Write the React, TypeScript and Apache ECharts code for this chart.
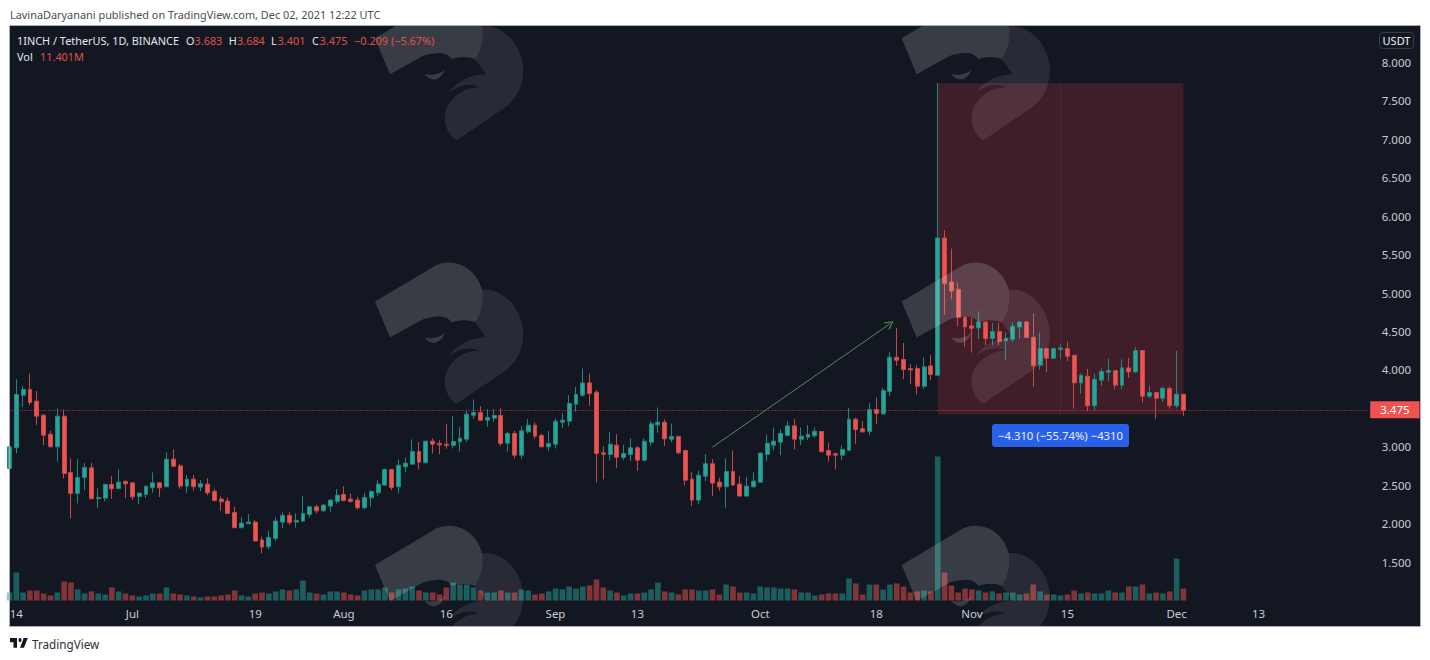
import React, { useEffect, useRef } from "react";
import * as echarts from "echarts";

const opens = [
  2.718,2.986,3.671,3.745,3.593,3.411,3.164,2.999,3.398,2.666,
  2.393,2.601,2.726,2.324,2.332,2.510,2.458,2.549,2.531,2.354,
  2.380,2.466,2.531,2.480,2.839,2.752,2.488,2.579,2.475,2.514,
  2.419,2.319,2.293,2.146,1.947,1.999,2.020,1.786,1.700,1.808,
  2.020,2.107,2.020,2.033,2.120,2.219,2.167,2.228,2.289,2.380,
  2.319,2.306,2.207,2.336,2.401,2.501,2.705,2.480,2.739,2.774,
  2.939,2.791,3.073,3.043,3.034,3.017,3.064,3.099,3.411,3.446,
  3.346,3.372,3.407,3.047,3.173,2.891,3.194,3.281,3.147,2.999,
  3.034,3.320,3.333,3.554,3.671,3.831,3.710,2.921,2.900,3.021,
  2.861,2.900,2.986,2.826,3.060,3.285,3.320,3.099,3.134,2.952,
  2.579,2.306,2.618,2.779,2.540,2.479,2.679,2.514,2.358,2.479,
  2.540,2.900,3.021,3.060,3.147,3.272,3.099,3.125,3.142,3.199,
  2.952,2.908,2.891,2.952,3.359,3.233,3.199,3.485,3.428,3.719,
  4.165,4.135,4.018,4.018,3.788,4.052,3.931,5.716,5.144,5.049,
  4.685,4.572,4.546,4.624,4.408,4.499,4.377,4.399,4.559,4.624,
  4.425,4.061,4.278,4.152,4.265,4.278,4.191,3.831,3.918,3.533,
  3.866,3.970,3.992,3.801,4.026,3.974,4.252,3.658,3.706,3.632,3.758,3.533,3.683,
];
const closes = [
  2.999,3.680,3.745,3.576,3.398,3.151,2.999,3.398,2.653,2.393,
  2.601,2.731,2.324,2.341,2.510,2.453,2.540,2.518,2.349,2.397,
  2.484,2.531,2.466,2.839,2.748,2.488,2.579,2.480,2.518,2.401,
  2.302,2.285,2.133,1.947,2.007,2.020,1.773,1.695,1.821,2.033,
  2.107,2.016,2.042,2.133,2.219,2.167,2.241,2.306,2.371,2.302,
  2.289,2.207,2.341,2.419,2.514,2.705,2.471,2.761,2.787,2.939,
  2.800,3.073,3.034,3.025,3.017,3.069,3.112,3.424,3.446,3.346,
  3.381,3.407,3.043,3.173,2.891,3.207,3.281,3.138,2.999,3.043,
  3.333,3.346,3.563,3.680,3.831,3.693,2.913,2.904,3.034,2.865,
  2.913,2.986,2.826,3.073,3.298,3.320,3.103,3.134,2.921,2.566,
  2.306,2.631,2.779,2.527,2.479,2.679,2.501,2.358,2.488,2.553,
  2.917,3.047,3.073,3.173,3.272,3.099,3.138,3.160,3.203,2.934,
  2.891,2.891,2.965,3.359,3.225,3.194,3.485,3.433,3.732,4.165,
  4.126,4.005,4.000,3.788,4.039,3.940,5.716,5.123,5.027,4.681,
  4.559,4.542,4.624,4.408,4.499,4.369,4.412,4.568,4.624,4.421,
  4.053,4.278,4.152,4.278,4.286,4.178,3.831,3.931,3.533,3.879,
  3.979,3.992,3.801,4.026,3.974,4.252,3.658,3.706,3.632,3.762,3.533,3.684,3.475,
];
const lows = [
  2.718,2.913,3.519,3.541,3.281,3.021,2.999,2.804,2.588,2.068,
  2.263,2.436,2.324,2.198,2.293,2.324,2.458,2.332,2.306,2.254,
  2.332,2.401,2.345,2.480,2.739,2.453,2.401,2.427,2.423,2.371,
  2.289,2.167,2.124,1.947,1.947,1.999,1.773,1.613,1.669,1.778,
  1.947,1.981,1.947,2.024,2.077,2.133,2.154,2.154,2.263,2.289,
  2.272,2.185,2.185,2.219,2.362,2.493,2.436,2.393,2.666,2.774,
  2.705,2.791,2.913,2.904,2.973,2.978,2.939,3.064,3.363,3.333,
  3.259,3.320,3.008,2.939,2.848,2.839,3.173,3.103,2.999,2.943,
  2.978,3.242,3.268,3.459,3.649,3.532,2.536,2.575,2.826,2.722,
  2.826,2.813,2.687,2.817,3.008,3.186,3.008,3.060,2.904,2.493,
  2.228,2.254,2.553,2.358,2.428,2.207,2.501,2.358,2.358,2.471,
  2.540,2.813,2.952,2.891,3.138,2.965,3.025,3.090,3.121,2.934,
  2.804,2.705,2.826,2.952,3.038,3.186,3.151,3.294,3.420,3.662,
  4.052,3.879,3.814,3.684,3.753,3.866,3.931,4.720,4.919,4.568,
  4.299,4.226,4.403,4.321,4.321,4.321,4.126,4.364,4.408,4.412,
  3.779,4.005,3.966,4.143,4.143,4.113,3.498,3.693,3.463,3.476,
  3.793,3.853,3.749,3.745,3.896,3.961,3.572,3.628,3.359,3.584,3.498,3.498,3.401,
];
const highs = [
  2.999,3.879,3.788,3.953,3.727,3.420,3.207,3.498,3.485,2.848,
  2.839,2.791,2.791,2.458,2.510,2.618,2.705,2.566,2.531,2.406,
  2.501,2.666,2.540,2.926,2.965,2.774,2.631,2.631,2.566,2.592,
  2.453,2.354,2.341,2.219,2.089,2.124,2.046,1.830,1.908,2.081,
  2.146,2.146,2.133,2.358,2.228,2.245,2.254,2.315,2.449,2.488,
  2.393,2.349,2.401,2.436,2.566,2.718,2.705,2.835,2.861,3.095,
  3.060,3.073,3.108,3.086,3.294,3.398,3.259,3.467,3.615,3.528,
  3.489,3.489,3.502,3.194,3.207,3.268,3.359,3.316,3.173,3.207,
  3.368,3.433,3.671,3.779,4.018,3.953,3.736,3.008,3.194,3.164,
  3.021,3.108,3.008,3.108,3.333,3.511,3.355,3.303,3.134,2.952,
  2.666,2.688,2.904,2.839,2.596,2.852,2.952,2.618,2.610,2.666,
  2.930,3.160,3.251,3.225,3.333,3.359,3.251,3.281,3.251,3.203,
  3.056,2.926,3.013,3.506,3.376,3.333,3.567,3.641,3.766,4.234,
  4.546,4.351,4.074,4.061,4.161,4.191,7.730,5.816,5.578,5.136,
  4.698,4.676,4.763,4.624,4.611,4.611,4.486,4.616,4.633,4.633,
  4.733,4.486,4.278,4.278,4.334,4.364,4.191,3.953,4.013,3.953,
  4.018,4.148,3.992,4.139,4.156,4.300,4.252,3.792,3.706,3.779,3.788,4.247,3.684,
];
const volumes = [
  7.6,26.6,7.6,9.5,9.5,6.7,4.8,7.6,18.1,17.1,
  10.5,6.7,8.6,6.7,5.7,12.4,8.6,6.7,4.8,3.8,
  4.8,6.7,6.7,12.4,6.7,5.7,4.8,3.8,2.9,3.8,
  3.8,4.8,5.7,9.5,4.8,3.8,6.7,7.6,6.7,8.6,
  10.5,9.5,10.5,19.0,7.6,6.7,5.7,8.6,8.6,7.6,
  5.7,4.8,9.5,10.5,10.5,12.4,7.6,10.5,11.4,13.3,
  9.5,7.6,7.6,5.7,12.4,17.1,15.2,15.2,12.4,9.5,
  7.6,7.6,9.5,7.6,7.6,10.5,9.5,5.7,6.7,8.6,
  11.4,10.5,13.3,11.4,13.3,14.3,20.0,12.4,9.5,7.6,
  4.8,6.7,6.7,7.6,10.5,17.1,8.6,7.6,5.7,10.5,
  10.5,9.5,9.5,10.5,5.7,15.2,13.3,7.6,7.6,6.7,
  13.3,12.4,12.4,11.4,11.4,10.5,7.6,7.6,4.8,5.7,
  6.7,6.7,6.7,20.9,16.2,5.7,15.2,15.2,10.5,15.2,
  16.2,13.3,7.6,8.6,9.5,8.6,136.8,26.6,14.3,7.6,
  11.4,10.5,9.5,7.6,8.6,6.7,7.6,7.6,5.7,6.7,
  15.2,8.6,5.7,5.7,4.8,5.7,9.5,6.7,7.6,6.7,
  6.7,9.5,7.6,7.6,13.3,13.3,15.2,6.7,7.6,6.7,8.6,39.9,11.401,
];
const tickLabels: Record<string, string> = {
  "2021-06-14": "14", "2021-07-01": "Jul", "2021-07-19": "19", "2021-08-01": "Aug",
  "2021-08-16": "16", "2021-09-01": "Sep", "2021-09-13": "13", "2021-10-01": "Oct",
  "2021-10-18": "18", "2021-11-01": "Nov", "2021-11-15": "15", "2021-12-01": "Dec",
  "2021-12-13": "13",
};
const lastPrice = 3.475;
const rangeTop = 7.73;
const rangeBottom = 3.42;
const rangeStart = "2021-10-27";
const rangeMiddle = "2021-11-14";
const rangeEnd = "2021-12-02";
const arrowFrom = ["2021-09-24", 2.995];
const arrowTo = ["2021-10-20", 4.6];

const UP = "#26a69a";
const DOWN = "#ef5350";
const LEGEND_RED = "#e2504d";
const UI_FONT = "'Noto Sans', sans-serif";

const categories: string[] = [];
for (let i = 0; i < 200; i++) {
  categories.push(new Date(Date.UTC(2021, 5, 13 + i)).toISOString().slice(0, 10));
}

const LOGO_LIGHT =
  "M45 155L230 45C290 20 350 60 365 115C375 150 365 190 345 218C330 210 300 208 275 218C265 200 240 192 190 208L90 263Z" +
  "M195 262C210 268 240 265 255 248C250 265 235 280 220 279C208 278 198 270 195 262Z";
const LOGO_DARK =
  "M365 120C430 110 490 180 490 250C490 300 470 335 440 360L290 462C255 440 245 390 265 355C285 322 325 300 358 303" +
  "C335 288 300 295 268 318C285 290 330 262 378 263C365 245 355 228 345 218C365 190 375 150 365 120Z";
const TV_LOGO = "M14 6H0v6h7v8h7V6ZM28 20h-8L27.5 6h8L28 20ZM20 6a3 3 0 1 1 0 6a3 3 0 0 1 0-6Z";

echarts.graphic.registerShape("wmLight", echarts.graphic.extendPath(LOGO_LIGHT as any, {}));
echarts.graphic.registerShape("wmDark", echarts.graphic.extendPath(LOGO_DARK as any, {}));
echarts.graphic.registerShape("tvLogo", echarts.graphic.extendPath(TV_LOGO as any, {}));

const txt = (x: number, y: number, text: string, fill: string, size = 11.5, extra: any = {}) => ({
  type: "text",
  x,
  y,
  z: 80,
  style: { text, fill, font: `${size}px ${UI_FONT}`, textVerticalAlign: "middle", verticalAlign: "middle", ...extra },
});

function buildGraphics() {
  const els: any[] = [
    { type: "rect", z: -5, shape: { x: 10, y: 26, width: 1410, height: 600 }, style: { fill: "#131722" } },
  ];
  for (const ox of [360, 886.7]) {
    for (const oy of [-13.4, 250, 513.3]) {
      els.push({ type: "wmDark", x: ox, y: oy, scaleX: 1 / 3, scaleY: 1 / 3, z: 50, style: { fill: "#ffffff", opacity: 0.09 } });
      els.push({ type: "wmLight", x: ox, y: oy, scaleX: 1 / 3, scaleY: 1 / 3, z: 50, style: { fill: "#ffffff", opacity: 0.16 } });
    }
  }
  els.push(
    { type: "rect", z: 60, shape: { x: 0, y: 0, width: 1430, height: 26 }, style: { fill: "#ffffff" } },
    { type: "rect", z: 60, shape: { x: 0, y: 626, width: 1430, height: 34 }, style: { fill: "#ffffff" } },
    { type: "rect", z: 61, shape: { x: 9.5, y: 25.5, width: 1411, height: 601 }, style: { fill: "none", stroke: "#a9adb8", lineWidth: 1 } },
    { type: "rect", z: 79, shape: { x: 992, y: 424, width: 137, height: 23, r: 3 }, style: { fill: "#2860e8" } },
    { type: "rect", z: 79, shape: { x: 1379.5, y: 32.5, width: 34, height: 16, r: 3 }, style: { fill: "#131722", stroke: "#363a45", lineWidth: 1 } },
    { type: "tvLogo", x: 10, y: 633.8, scaleX: 0.5, scaleY: 0.7, z: 80, style: { fill: "#131722" } },
    txt(10, 14, "LavinaDaryanani published on TradingView.com, Dec 02, 2021 12:22 UTC", "#4a4d57", 10.9),
    txt(32, 644, "TradingView", "#2a2e39", 11.7),
    txt(17, 40, "1INCH / TetherUS, 1D, BINANCE", "#e6e8ee", 10.9),
    txt(186, 40, "O", "#e6e8ee", 10.9),
    txt(194.5, 40, "3.683", LEGEND_RED, 10.9),
    txt(228.7, 40, "H", "#e6e8ee", 10.9),
    txt(237, 40, "3.684", LEGEND_RED, 10.9),
    txt(271, 40, "L", "#e6e8ee", 10.9),
    txt(277.6, 40, "3.401", LEGEND_RED, 10.9),
    txt(312, 40, "C", "#e6e8ee", 10.9),
    txt(319.6, 40, "3.475", LEGEND_RED, 10.9),
    txt(354, 40, "−0.209 (−5.67%)", LEGEND_RED, 10.9),
    txt(17, 56, "Vol", "#e6e8ee", 10.9),
    txt(40, 56, "11.401M", LEGEND_RED, 10.9),
    txt(1396.5, 40.5, "USDT", "#f0f2f6", 11, { textAlign: "center", align: "center" }),
    txt(1060.5, 435.5, "−4.310 (−55.74%) −4310", "#e8eeff", 11.3, { textAlign: "center", align: "center" }),
  );
  return els;
}

export default function App() {
  const ref = useRef<HTMLDivElement>(null);
  useEffect(() => {
    document.body.style.margin = "0";
    const chart = echarts.init(ref.current!, undefined, { renderer: "svg" });
    const candleData = opens.map((o, i) => [o, closes[i], lows[i], highs[i]]);
    const volumeData = volumes.map((v, i) => ({
      value: v,
      itemStyle: { color: closes[i] >= opens[i] ? "rgba(38,166,154,0.5)" : "rgba(239,83,80,0.5)" },
    }));
    chart.setOption({
      animation: false,
      backgroundColor: "#ffffff",
      textStyle: { fontFamily: UI_FONT },
      grid: { left: 9.5, top: 24, width: 1358.2, height: 576.5, containLabel: false },
      xAxis: {
        type: "category",
        data: categories,
        boundaryGap: false,
        axisLine: { show: false },
        axisTick: { show: false },
        splitLine: { show: false },
        axisLabel: {
          interval: (_: number, value: string) => value in tickLabels,
          formatter: (value: string) => tickLabels[value] ?? "",
          color: "#c8cbd4",
          fontSize: 11.5,
          margin: 7,
          fontFamily: UI_FONT,
        },
      },
      yAxis: [
        {
          type: "value",
          position: "right",
          min: 1,
          max: 8.5,
          interval: 0.5,
          splitLine: { show: false },
          axisLine: { show: false },
          axisTick: { show: false },
          axisLabel: {
            showMinLabel: false,
            showMaxLabel: false,
            formatter: (v: number) => v.toFixed(3),
            color: "#c8cbd4",
            fontSize: 11.5,
            margin: 14,
            fontFamily: UI_FONT,
          },
        },
        { type: "value", min: 0, max: 548, show: false },
      ],
      series: [
        {
          type: "bar",
          name: "Vol",
          yAxisIndex: 1,
          barWidth: 5.6,
          z: 1,
          data: volumeData,
        },
        {
          type: "candlestick",
          name: "1INCH / TetherUS",
          z: 2,
          barWidth: 4.4,
          data: candleData,
          itemStyle: {
            color: UP,
            color0: DOWN,
            borderColor: "#22877e",
            borderColor0: "#c44a4a",
            borderWidth: 1,
          },
          markArea: {
            silent: true,
            itemStyle: { color: "rgba(242,54,69,0.2)" },
            data: [[{ xAxis: rangeStart, yAxis: rangeTop }, { xAxis: rangeEnd, yAxis: rangeBottom }]],
          },
          markLine: {
            silent: true,
            animation: false,
            symbol: "none",
            data: [
              {
                yAxis: lastPrice,
                lineStyle: { color: "#d9413f", type: [1, 2], width: 1, opacity: 1 },
                label: {
                  show: true,
                  position: "end",
                  distance: 2.5,
                  formatter: () => lastPrice.toFixed(3),
                  color: "#ffffff",
                  fontSize: 11.5,
                  fontFamily: UI_FONT,
                  backgroundColor: "#ef5350",
                  padding: [3, 10, 2, 10],
                },
              },
              [
                {
                  coord: [rangeMiddle, rangeTop],
                  lineStyle: { color: "rgba(90,96,110,0.22)", type: "solid", width: 1 },
                  label: { show: false },
                  symbol: "none",
                },
                { coord: [rangeMiddle, rangeBottom], symbol: "none" },
              ],
              [
                {
                  coord: arrowFrom,
                  lineStyle: { color: "#4f8f52", type: "solid", width: 1 },
                  label: { show: false },
                  symbol: "none",
                },
                {
                  coord: arrowTo,
                  symbol: "path://M5 0L10 9L9 10L5 2.5L1 10L0 9Z",
                  symbolSize: 9,
                },
              ],
            ],
          },
        },
      ],
      graphic: { elements: buildGraphics() },
    });
    return () => chart.dispose();
  }, []);
  return <div ref={ref} style={{ position: "fixed", left: 0, top: 0, width: 1430, height: 660 }} />;
}
